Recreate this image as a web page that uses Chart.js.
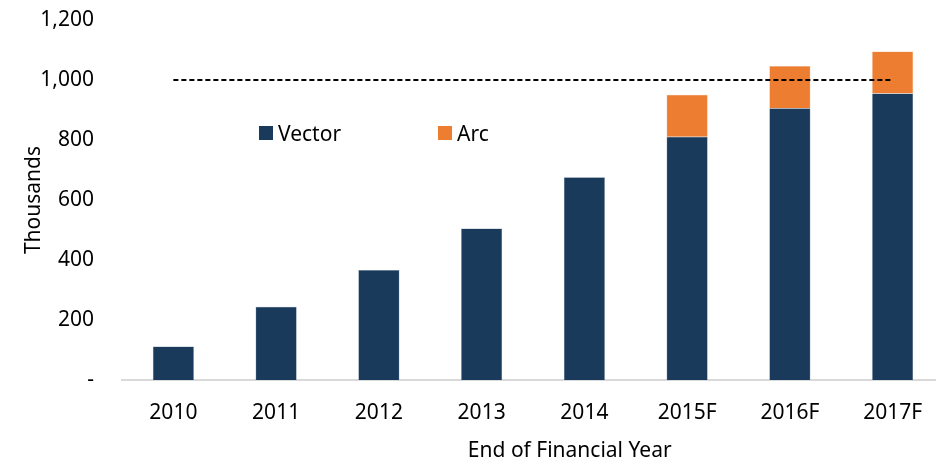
<!DOCTYPE html>
<html>
<head>
<meta charset="utf-8">
<script src="https://cdn.jsdelivr.net/npm/chart.js@4/dist/chart.umd.min.js"></script>
<style>
  html, body { margin: 0; padding: 0; background: #fff; overflow: hidden; }
  #wrap { position: relative; width: 944px; height: 459px; }
  .legend { position: absolute; top: 119px; font: 21px "Noto Sans", sans-serif; color: #000; display: flex; align-items: center; }
  .legend span.box { width: 14px; height: 14px; display: inline-block; margin-right: 5px; }
</style>
</head>
<body>
<div id="wrap">
  <canvas id="chart" width="944" height="459"></canvas>
  <div class="legend" style="left:259px"><span class="box" style="background:#193a5b"></span>Vector</div>
  <div class="legend" style="left:438px"><span class="box" style="background:#ed7d31"></span>Arc</div>
</div>
<script>
// Dados (milhares)
const years = ['2010', '2011', '2012', '2013', '2014', '2015F', '2016F', '2017F'];
const vector = [112, 244, 367, 505, 676, 811, 906, 955];
const arc = [0, 0, 0, 0, 0, 140, 141, 140];
const target = [1000, 1000, 1000, 1000, 1000, 1000, 1000, 1000];
const yTicks = [0, 200, 400, 600, 800, 1000, 1200];

const font = { family: '"Noto Sans", sans-serif', size: 21 };

new Chart(document.getElementById('chart'), {
    type: 'bar',
    data: {
        labels: years,
        datasets: [
            {
                type: 'line',
                label: 'Target',
                data: target,
                borderColor: '#000',
                borderWidth: 2,
                borderDash: [5, 3],
                pointRadius: 0,
                fill: false,
                order: 0
            },
            {
                label: 'Vector',
                data: vector,
                backgroundColor: '#193a5b',
                borderColor: '#6f869c',
                borderWidth: 0.5,
                barPercentage: 0.8,
                categoryPercentage: 0.5,
                order: 1
            },
            {
                label: 'Arc',
                data: arc,
                backgroundColor: '#ed7d31',
                borderColor: '#f6b58b',
                borderWidth: 0.5,
                barPercentage: 0.8,
                categoryPercentage: 0.5,
                order: 2
            }
        ]
    },
    options: {
        responsive: false,
        animation: false,
        layout: { padding: { top: 20, right: 0, bottom: 0, left: 0 } },
        plugins: { legend: { display: false }, tooltip: { enabled: false } },
        scales: {
            x: {
                stacked: true,
                grid: { display: false, drawTicks: false },
                border: { color: '#d9d9d9', width: 2 },
                ticks: { font: font, color: '#000', padding: 20 },
                // espaços à esquerda para deslocar o título como no original
                title: { display: true, text: '\u2003\u2003\u2003\u2002End of Financial Year', font: { ...font, lineHeight: 0.75 }, color: '#000', padding: { top: 0, bottom: 0 } },
                afterFit: s => { s.height = 79; }
            },
            y: {
                stacked: true,
                min: 0,
                max: 1200,
                grid: { display: false, drawTicks: false },
                border: { display: false },
                afterBuildTicks: s => { s.ticks = yTicks.map(v => ({ value: v })); },
                ticks: {
                    font: font,
                    color: '#000',
                    padding: 28,
                    callback: v => v === 0 ? '-' : v.toLocaleString('en-US')
                },
                title: { display: true, text: 'Thousands', font: font, color: '#000', padding: { top: 21, bottom: 0 } },
                afterFit: s => { s.width = 122; s.paddingTop = 0; s.paddingBottom = 0; }
            }
        }
    }
});
</script>
</body>
</html>
